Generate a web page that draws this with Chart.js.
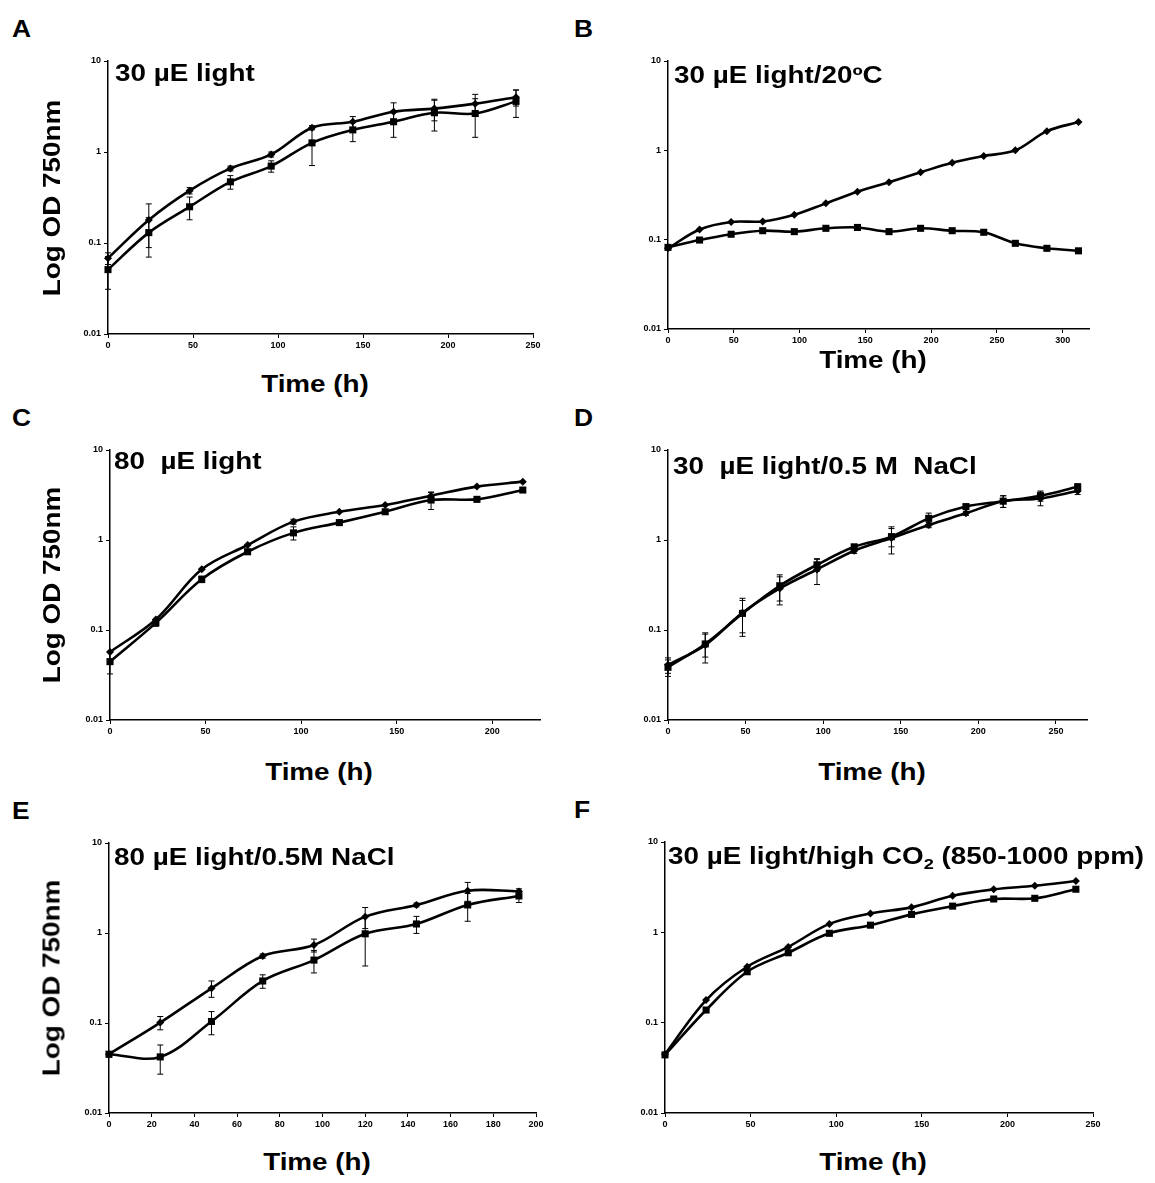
<!DOCTYPE html>
<html>
<head>
<meta charset="utf-8">
<script src="https://cdn.jsdelivr.net/npm/chart.js@4.4.0/dist/chart.umd.min.js"></script>
<style>
  body { margin: 0; background: #fff; width: 1155px; height: 1183px; position: relative; overflow: hidden;
         font-family: 'Liberation Sans', Arial, sans-serif; }
  canvas { position: absolute; }
  .lbl { position: absolute; font-weight: bold; color: #000; white-space: pre; line-height: 23px; font-size: 23px; }
  .lbl sub { font-size: 15px; vertical-align: -5px; line-height: 0; }
</style>
</head>
<body>
<script>
// ---- data ----
const yTickValues = [0.01, 0.1, 1, 10];

const timeA = [0, 24, 48, 72, 96, 120, 144, 168, 192, 216, 240];
const diamondA = [0.068, 0.179, 0.376, 0.66, 0.94, 1.85, 2.15, 2.77, 3.0, 3.4, 4.0];
const squareA = [0.051, 0.13, 0.25, 0.47, 0.70, 1.26, 1.75, 2.15, 2.7, 2.65, 3.6];
const errDiamondA = [0.01, 0.09, 0.03, 0.04, 0.06, 0.1, 0.3, 0.7, 0.8, 0.9, 0.8];
const errSquareA = [0.02, 0.06, 0.07, 0.08, 0.1, 0.55, 0.45, 0.7, 1.0, 1.2, 1.2];
const xTicksA = [0, 50, 100, 150, 200, 250];

const timeB = [0, 24, 48, 72, 96, 120, 144, 168, 192, 216, 240, 264, 288, 312];
const diamondB = [0.080, 0.130, 0.158, 0.16, 0.19, 0.255, 0.344, 0.44, 0.567, 0.727, 0.863, 1.0, 1.64, 2.07];
const squareB = [0.082, 0.099, 0.115, 0.126, 0.123, 0.134, 0.137, 0.123, 0.134, 0.126, 0.121, 0.091, 0.08, 0.075];
const xTicksB = [0, 50, 100, 150, 200, 250, 300];

const timeC = [0, 24, 48, 72, 96, 120, 144, 168, 192, 216];
const diamondC = [0.057, 0.131, 0.472, 0.88, 1.6, 2.06, 2.45, 3.11, 3.92, 4.45];
const squareC = [0.0445, 0.12, 0.366, 0.74, 1.2, 1.56, 2.06, 2.78, 2.83, 3.59];
const errDiamondC = [0, 0, 0, 0, 0.1, 0, 0, 0.3, 0, 0];
const errSquareC = [0.012, 0.01, 0.03, 0.05, 0.2, 0.1, 0.1, 0.6, 0, 0.2];
const xTicksC = [0, 50, 100, 150, 200];

const timeD = [0, 24, 48, 72, 96, 120, 144, 168, 192, 216, 240, 264];
const diamondD = [0.041, 0.068, 0.155, 0.29, 0.47, 0.76, 1.05, 1.47, 1.98, 2.7, 2.9, 3.5];
const squareD = [0.0385, 0.07, 0.153, 0.31, 0.53, 0.84, 1.09, 1.74, 2.35, 2.7, 3.1, 3.9];
const errDiamondD = [0.008, 0.025, 0.07, 0.1, 0.15, 0.05, 0.35, 0.1, 0.1, 0.4, 0.5, 0.3];
const errSquareD = [0.008, 0.02, 0.06, 0.1, 0.08, 0.05, 0.25, 0.25, 0.1, 0.4, 0.4, 0.3];
const xTicksD = [0, 50, 100, 150, 200, 250];

const timeE = [0, 24, 48, 72, 96, 120, 144, 168, 192];
const diamondE = [0.045, 0.101, 0.243, 0.555, 0.735, 1.52, 2.05, 2.95, 2.9];
const squareE = [0.045, 0.042, 0.104, 0.293, 0.50, 0.98, 1.26, 2.05, 2.58];
const errDiamondE = [0.003, 0.017, 0.05, 0.03, 0.12, 0.4, 0.1, 0.7, 0.2];
const errSquareE = [0.003, 0.015, 0.03, 0.05, 0.14, 0.55, 0.27, 0.7, 0.4];
const xTicksE = [0, 20, 40, 60, 80, 100, 120, 140, 160, 180, 200];

const timeF = [0, 24, 48, 72, 96, 120, 144, 168, 192, 216, 240];
const diamondF = [0.0446, 0.178, 0.416, 0.69, 1.24, 1.62, 1.89, 2.54, 2.99, 3.28, 3.7];
const squareF = [0.044, 0.138, 0.366, 0.594, 0.975, 1.2, 1.58, 1.95, 2.34, 2.38, 3.0];
const xTicksF = [0, 50, 100, 150, 200, 250];

// ---- layout ----
const PAD_L = 45, PAD_T = 10, PAD_R = 16, PAD_B = 26;
const SX = 1.21; // the figure's lettering is stretched horizontally

const panels = [
  { letter: 'A', title: '30 µE light', t: timeA, dia: diamondA, sq: squareA, eDia: errDiamondA, eSq: errSquareA,
    xTicks: xTicksA, xMax: 250, box: [108, 61, 533, 334], titleAt: [115, 62], timeDy: 50, yTitle: true },
  { letter: 'B', title: '30 µE light/20ºC', t: timeB, dia: diamondB, sq: squareB, eDia: null, eSq: null,
    xTicks: xTicksB, xMax: 320, box: [668, 61, 1089, 329], titleAt: [674, 64], timeDy: 31, yTitle: false },
  { letter: 'C', title: '80  µE light', t: timeC, dia: diamondC, sq: squareC, eDia: errDiamondC, eSq: errSquareC,
    xTicks: xTicksC, xMax: 225, box: [110, 450, 540, 720], titleAt: [114, 450], timeDy: 52, yTitle: true },
  { letter: 'D', title: '30  µE light/0.5 M  NaCl', t: timeD, dia: diamondD, sq: squareD, eDia: errDiamondD, eSq: errSquareD,
    xTicks: xTicksD, xMax: 270, box: [668, 450, 1087, 720], titleAt: [673, 455], timeDy: 52, yTitle: false },
  { letter: 'E', title: '80 µE light/0.5M NaCl', t: timeE, dia: diamondE, sq: squareE, eDia: errDiamondE, eSq: errSquareE,
    xTicks: xTicksE, xMax: 200, box: [109, 843, 536, 1113], titleAt: [114, 846], timeDy: 49, yTitle: true },
  { letter: 'F', title: '30 µE light/high CO<sub>2</sub> (850-1000 ppm)', t: timeF, dia: diamondF, sq: squareF, eDia: null, eSq: null,
    xTicks: xTicksF, xMax: 250, box: [665, 842, 1093, 1113], titleAt: [668, 845], timeDy: 49, yTitle: false }
];

function addText(html, css) {
  const d = document.createElement('div');
  d.className = 'lbl';
  d.innerHTML = html;
  Object.assign(d.style, css);
  document.body.appendChild(d);
  return d;
}

const errorBars = {
  id: 'errorBars',
  afterDatasetsDraw(chart) {
    const ctx = chart.ctx;
    const ys = chart.scales.y;
    ctx.save();
    ctx.strokeStyle = '#000';
    ctx.lineWidth = 1;
    chart.data.datasets.forEach((ds, di) => {
      if (!ds.err) return;
      const meta = chart.getDatasetMeta(di);
      ds.err.forEach((sd, i) => {
        if (!sd) return;
        const v = ds.data[i].y;
        const x = meta.data[i].x;
        const yTop = ys.getPixelForValue(v + sd);
        const yBot = ys.getPixelForValue(Math.max(v - sd, 0.0105));
        ctx.beginPath();
        ctx.moveTo(x, yTop); ctx.lineTo(x, yBot);
        ctx.moveTo(x - 3, yTop); ctx.lineTo(x + 3, yTop);
        ctx.moveTo(x - 3, yBot); ctx.lineTo(x + 3, yBot);
        ctx.stroke();
      });
    });
    ctx.restore();
  }
};

const tickFont = { family: "'Liberation Sans', Arial, sans-serif", size: 9, weight: 'bold' };

panels.forEach(p => {
  const [l, t, r, b] = p.box;
  const canvas = document.createElement('canvas');
  const w = PAD_L + (r - l) + PAD_R;
  const h = PAD_T + (b - t) + PAD_B;
  canvas.width = w; canvas.height = h;
  canvas.style.left = (l - PAD_L) + 'px';
  canvas.style.top = (t - PAD_T) + 'px';
  canvas.style.width = w + 'px';
  canvas.style.height = h + 'px';
  document.body.appendChild(canvas);

  const line = (vals, style, radius, err) => ({
    data: p.t.map((x, i) => ({ x: x, y: vals[i] })),
    borderColor: '#000',
    backgroundColor: '#000',
    borderWidth: 2.6,
    pointStyle: style,
    pointRadius: radius,
    pointBorderWidth: 0,
    tension: 0.35,
    clip: false,
    err: err
  });

  new Chart(canvas, {
    type: 'line',
    data: { datasets: [line(p.dia, 'rectRot', 4, p.eDia), line(p.sq, 'rect', 5, p.eSq)] },
    options: {
      responsive: false,
      animation: false,
      events: [],
      layout: { padding: { top: PAD_T, right: PAD_R, left: 0, bottom: 0 } },
      plugins: { legend: { display: false }, tooltip: { enabled: false } },
      scales: {
        x: {
          type: 'linear', min: 0, max: p.xMax,
          afterBuildTicks: ax => { ax.ticks = p.xTicks.map(v => ({ value: v })); },
          afterFit: ax => { ax.height = PAD_B; },
          grid: { drawOnChartArea: false, drawTicks: true, tickLength: 4, color: '#000', lineWidth: 1 },
          border: { color: '#000', width: 1.5 },
          ticks: { color: '#000', font: tickFont, padding: 2, maxRotation: 0, autoSkip: false }
        },
        y: {
          type: 'logarithmic', min: 0.01, max: 10,
          afterBuildTicks: ax => { ax.ticks = yTickValues.map(v => ({ value: v })); },
          afterFit: ax => { ax.width = PAD_L; },
          grid: { drawOnChartArea: false, drawTicks: true, tickLength: 4, color: '#000', lineWidth: 1 },
          border: { color: '#000', width: 1.5 },
          ticks: { color: '#000', font: tickFont, padding: 3, autoSkip: false, callback: v => String(v) }
        }
      }
    },
    plugins: [errorBars]
  });

  // panel letter
  addText(p.letter, { left: (l < 400 ? 12 : 574) + 'px', top: (t - 44) + 'px', fontSize: '24px', transform: 'scaleX(1.1)', transformOrigin: '0 0' });
  // panel title inside the plot
  addText(p.title, { left: p.titleAt[0] + 'px', top: p.titleAt[1] + 'px', transform: 'scaleX(' + SX + ')', transformOrigin: '0 0' });
  // x axis title
  addText('Time (h)', { left: ((l + r) / 2 - 6) + 'px', top: (b + p.timeDy) + 'px', transform: 'translate(-50%, -50%) scaleX(' + SX + ')' });
  // y axis title
  if (p.yTitle) {
    addText('Log OD 750nm', { left: '52px', top: ((t + b) / 2) + 'px', transform: 'translate(-50%, -50%) rotate(-90deg) scaleX(' + SX + ')' });
  }
});
</script>
</body>
</html>
